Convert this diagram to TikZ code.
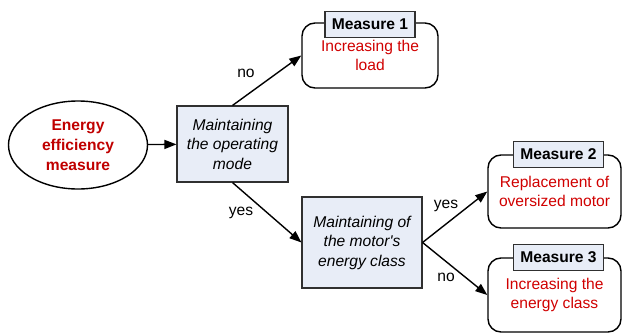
\documentclass[tikz,border=0pt]{standalone}
\usepackage{fontspec}
\setmainfont{Liberation Sans}
\usetikzlibrary{arrows.meta,shapes.geometric}
\definecolor{boxfill}{HTML}{E8EDF7}
\definecolor{boxline}{HTML}{303030}
\definecolor{startred}{HTML}{C00000}
\definecolor{measred}{HTML}{D00000}
\begin{document}
\begin{tikzpicture}[x=1pt,y=-1pt,
  every node/.style={font=\fontsize{15.6}{19.5}\selectfont, align=center, inner sep=0pt},
  conn/.style={line width=1.4pt, -{Triangle[length=12pt,width=9pt]}},
  startnode/.style={ellipse, draw, line width=1.4pt, minimum width=139pt, minimum height=88pt,
    font=\fontsize{15.6}{20}\selectfont\bfseries, text=startred},
  decision/.style={draw=boxline, line width=1.1pt, fill=boxfill, font=\fontsize{15.6}{19.5}\selectfont\itshape},
  measure/.style={draw, line width=1.4pt, rounded corners=13pt, text=measred},
  tab/.style={draw=boxline, line width=1.1pt, fill=boxfill, minimum width=90pt, minimum height=26pt,
    font=\fontsize{15.6}{18}\selectfont\bfseries},
  lbl/.style={font=\fontsize{15.6}{18}\selectfont}]
\useasboundingbox (0,0) rectangle (622,335);

% start of the decision chain
\node[startnode] (start) at (78,145) {Energy\\efficiency\\measure};

% decisions
\node[decision, minimum width=111pt, minimum height=76pt] (mode) at (232.5,144) {Maintaining\\the operating\\mode};
\node[decision, minimum width=120pt, minimum height=91pt] (class) at (362,242.5) {Maintaining of\\the motor\textquotesingle s\\energy class};

% measures
\node[measure, minimum width=136pt, minimum height=65pt] (m1) at (370,55.5) {Increasing the\\load};
\node[tab] (t1) at ([yshift=-2pt]m1.north) {Measure 1};
\node[measure, minimum width=133pt, minimum height=73pt] (m2) at (554.5,191.5) {Replacement of\\oversized motor};
\node[tab] (t2) at ([xshift=4pt]m2.north) {Measure 2};
\node[measure, minimum width=133pt, minimum height=74pt] (m3) at (554.5,295) {Increasing the\\energy class};
\node[tab] (t3) at ([xshift=4pt]m3.north) {Measure 3};

% connectors
\draw[conn] (start) -- (mode);
\draw[conn] (mode.north) -- (m1.west);
\draw[conn] (mode.south) -- (class.west);
\draw[conn] (class.east) -- (m2.west);
\draw[conn] (class.east) -- (m3.west);

% branch labels
\node[lbl] (lno1) at (246,73) {no};
\node[lbl] (lyes1) at (241,213) {yes};
\node[lbl] (lyes2) at (446,206) {yes};
\node[lbl] (lno2) at (446,277) {no};
\end{tikzpicture}
\end{document}
